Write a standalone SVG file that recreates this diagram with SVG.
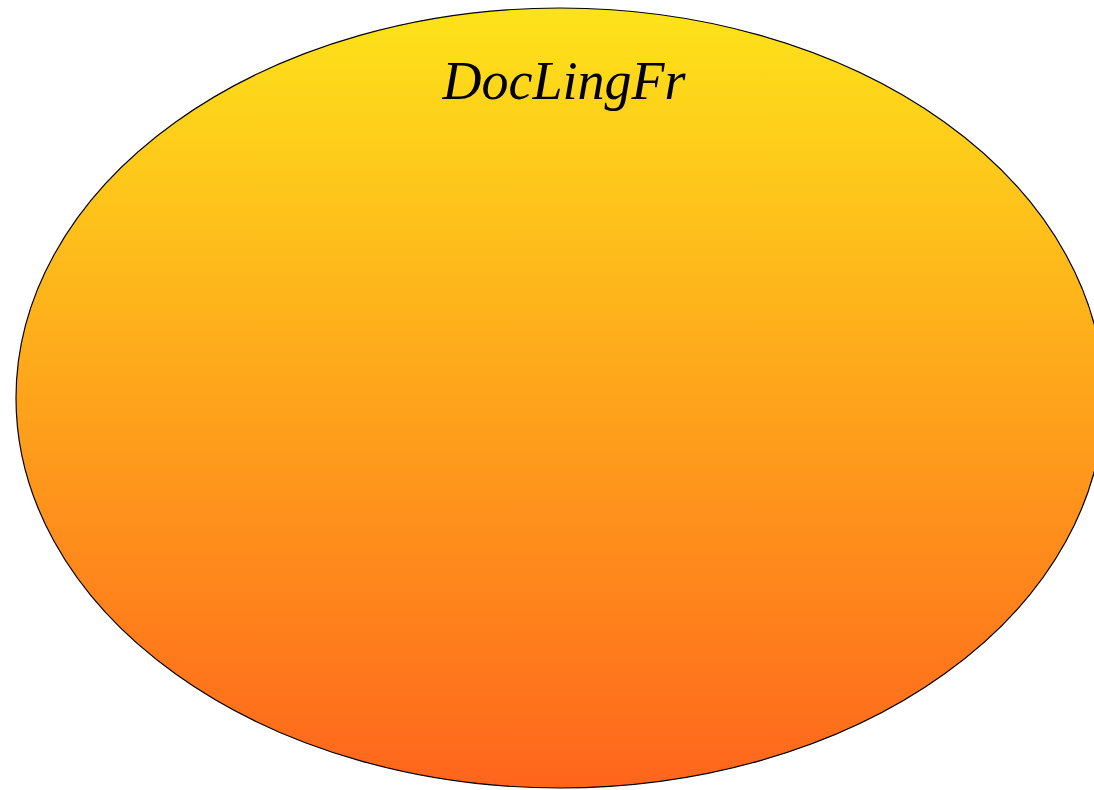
<svg xmlns="http://www.w3.org/2000/svg" width="1094" height="790" viewBox="0 0 1094 790">
<style>
.lbl{font-family:"Liberation Serif","Times New Roman",serif;font-style:italic;font-size:54px;fill:#000}
</style>
<defs>
<linearGradient id="g" x1="0" y1="0" x2="0" y2="1">
<stop offset="0" stop-color="#FDE31A"/>
<stop offset="1" stop-color="#FF651C"/>
</linearGradient>
</defs>
<rect width="1094" height="790" fill="#fff"/>
<g id="node-DocLingFr">
<ellipse cx="560" cy="398" rx="544" ry="390" fill="url(#g)" stroke="#000" stroke-width="1.2"/>
<text class="lbl" x="564" y="99" text-anchor="middle">DocLingFr</text>
</g>
<g id="connectors"/>
</svg>
